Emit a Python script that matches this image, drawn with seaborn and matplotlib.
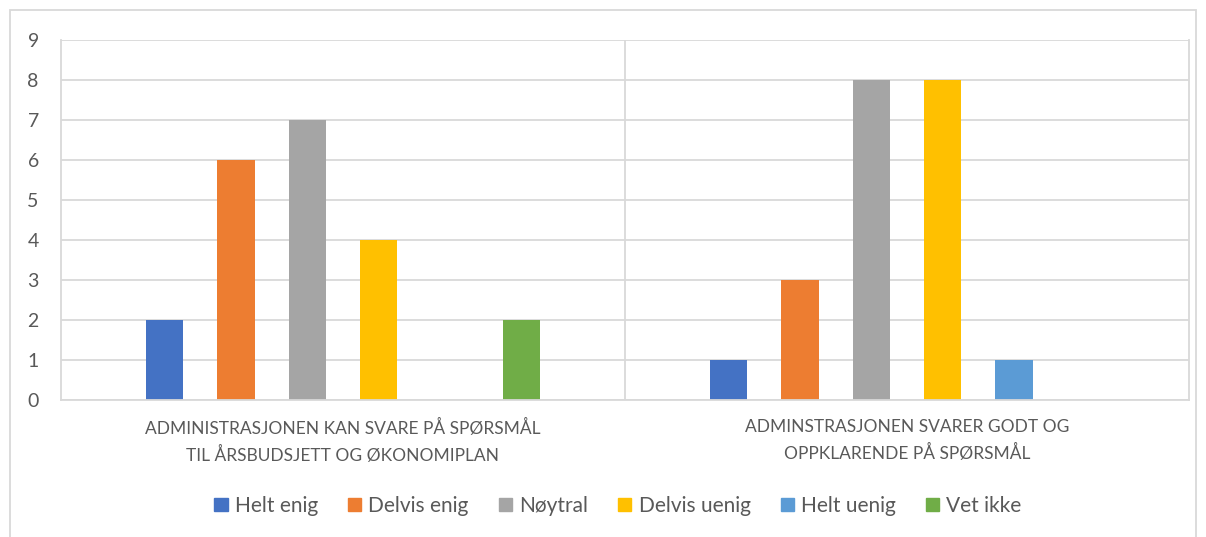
import numpy as np
import pandas as pd
import matplotlib
matplotlib.use("Agg")
import matplotlib.pyplot as plt
import matplotlib.patches as mpatches
import seaborn as sns

# data
questions = [
    "ADMINISTRASJONEN KAN SVARE PÅ SPØRSMÅL\nTIL ÅRSBUDSJETT OG ØKONOMIPLAN",
    "ADMINSTRASJONEN SVARER GODT OG\nOPPKLARENDE PÅ SPØRSMÅL",
]
responses = ["Helt enig", "Delvis enig", "Nøytral", "Delvis uenig", "Helt uenig", "Vet ikke"]
counts_q1 = [2, 6, 7, 4, 0, 2]
counts_q2 = [1, 3, 8, 8, 1, 0]
colors = ["#4472C4", "#ED7D31", "#A5A5A5", "#FFC000", "#5B9BD5", "#70AD47"]
yticks = list(range(0, 10))

df = pd.DataFrame({
    "question": [questions[0]] * len(responses) + [questions[1]] * len(responses),
    "response": responses * 2,
    "count": counts_q1 + counts_q2,
})

sns.set_theme(style="white")
plt.rcParams['font.family'] = ['Lato', 'DejaVu Sans']
text_col = "#595959"
grid_col = "#D9D9D9"

fig = plt.figure(figsize=(12.06, 5.37), dpi=100)
ax = fig.add_axes([61 / 1206, 1 - 400 / 537, (1189 - 61) / 1206, 360 / 537])

sns.barplot(data=df, x="question", y="count", hue="response", hue_order=responses,
            order=questions, palette=colors, width=0.76, errorbar=None,
            saturation=1, ax=ax, legend=False)

# Excel style: narrower bars with gaps inside the cluster
for p in ax.patches:
    w = p.get_width()
    nw = w * 0.525
    p.set_x(p.get_x() + (w - nw) / 2)
    p.set_width(nw)
    p.set_linewidth(0)

ax.set_xlim(-0.5, 1.5)
ax.set_ylim(0, 9)
ax.set_yticks(yticks)
ax.set_xlabel("")
ax.set_ylabel("")

ax.grid(axis="y", color=grid_col, linewidth=1.3)
ax.set_xticks([0.5], minor=True)
ax.grid(axis="x", which="minor", color=grid_col, linewidth=1.3)
ax.set_axisbelow(True)

for side in ["left", "right", "bottom"]:
    ax.spines[side].set_color(grid_col)
    ax.spines[side].set_linewidth(1.3)
ax.spines["top"].set_visible(False)

ax.tick_params(axis="y", which="major", length=5, width=1.3, color=grid_col,
               labelsize=14, labelcolor=text_col, pad=11)
ax.tick_params(axis="x", which="both", length=0, labelsize=12.5,
               labelcolor=text_col, pad=14)
for lbl in ax.get_xticklabels():
    lbl.set_linespacing(1.55)

handles = [mpatches.Patch(color=c, label=r) for c, r in zip(colors, responses)]
fig.legend(handles=handles, loc="center", bbox_to_anchor=(618 / 1206, 1 - 506 / 537),
           ncol=6, frameon=False, fontsize=15, labelcolor=text_col,
           handlelength=0.63, handleheight=0.63, handletextpad=0.34,
           columnspacing=1.45)

# light chart border like the Excel chart area
fig.add_artist(mpatches.Rectangle((10 / 1206, -0.02), 1186 / 1206, 1 - 10 / 537 + 0.02,
                                  transform=fig.transFigure, fill=False,
                                  edgecolor=grid_col, linewidth=1.3))

fig.savefig("out.png", dpi=100)
